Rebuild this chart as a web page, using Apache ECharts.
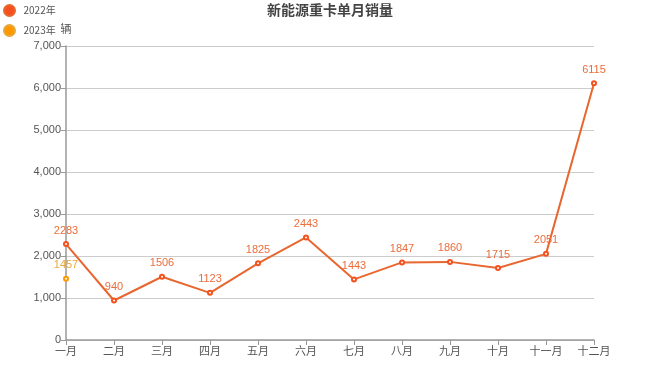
<!DOCTYPE html>
<html><head><meta charset="utf-8">
<script src="https://cdn.jsdelivr.net/npm/echarts@6/dist/echarts.min.js"></script>
<style>html,body{margin:0;padding:0;background:#fff}#c{width:660px;height:387px}</style>
</head><body><div id="c"></div>
<script>
const categories = ['一月','二月','三月','四月','五月','六月','七月','八月','九月','十月','十一月','十二月'];
const sales2022 = [2283, 940, 1506, 1123, 1825, 2443, 1443, 1847, 1860, 1715, 2051, 6115];
const sales2023 = [1457];
const yTicks = {min: 0, max: 7000, interval: 1000};

const chart = echarts.init(document.getElementById('c'));
chart.setOption({
  animation: false,
  title: {text: '新能源重卡单月销量', left: 'center', top: -2,
    textStyle: {fontSize: 14, fontWeight: 'bold', color: '#444', fontFamily: 'Noto Sans CJK SC'}},
  legend: {orient: 'vertical', left: -2, top: -1, icon: 'circle', itemWidth: 18, itemHeight: 11, itemGap: 7,
    textStyle: {fontSize: 10, color: '#555', fontFamily: 'Noto Sans CJK SC'},
    data: ['2022年', '2023年']},
  grid: {left: 66, right: 66, top: 46, bottom: 47},
  xAxis: {type: 'category', data: categories, boundaryGap: false,
    axisLine: {lineStyle: {color: '#999', width: 1.5}},
    axisTick: {show: true, alignWithLabel: true, lineStyle: {color: '#999'}},
    axisLabel: {color: '#555', fontSize: 11, margin: 5, fontFamily: 'Noto Sans CJK SC'}},
  yAxis: {type: 'value', min: yTicks.min, max: yTicks.max, interval: yTicks.interval,
    name: '辆', nameGap: 12, nameTextStyle: {color: '#555', fontSize: 11, align: 'center', fontFamily: 'Noto Sans CJK SC'},
    axisLine: {show: true, lineStyle: {color: '#999', width: 1.5}},
    axisTick: {show: true, lineStyle: {color: '#999'}},
    splitLine: {lineStyle: {color: '#ccc'}},
    axisLabel: {color: '#555', fontSize: 11, margin: 5,
      formatter: v => v.toLocaleString('en-US')}},
  series: [
    {name: '2022年', type: 'line', data: sales2022, symbol: 'emptyCircle', symbolSize: 4,
      itemStyle: {color: '#f4511e', borderColor: '#e8662f', borderWidth: 1},
      lineStyle: {color: '#e8662f', width: 2},
      label: {show: true, position: 'top', distance: 5, color: '#ec6d3a', fontSize: 11}},
    {name: '2023年', type: 'line', data: sales2023, symbol: 'emptyCircle', symbolSize: 4,
      itemStyle: {color: '#ff9800', borderColor: '#e8a838', borderWidth: 1},
      lineStyle: {color: '#e8a838', width: 2},
      label: {show: true, position: 'top', distance: 5, color: '#e8a838', fontSize: 11}}
  ]
});
</script></body></html>
